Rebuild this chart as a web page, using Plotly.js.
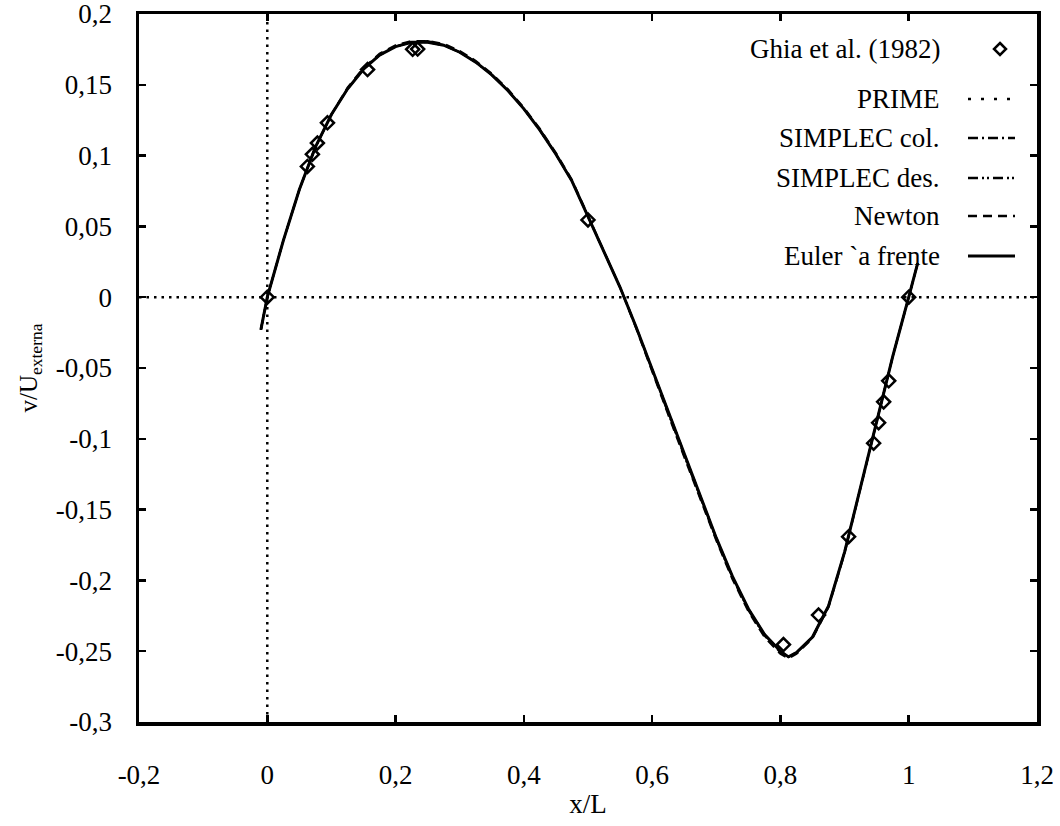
<!DOCTYPE html>
<html>
<head>
<meta charset="utf-8">
<script src="https://cdn.plot.ly/plotly-3.0.1.min.js"></script>
<style>
  html, body { margin: 0; padding: 0; background: #fff; }
  #chart { width: 1060px; height: 826px; }
</style>
</head>
<body>
<div id="chart"></div>
<script>
// ---- Data ----
const ghiaX = [0.0000, 0.0625, 0.0703, 0.0781, 0.0938, 0.1563, 0.2266, 0.2344, 0.5000, 0.8047, 0.8594, 0.9063, 0.9453, 0.9531, 0.9609, 0.9688, 1.0000];
const ghiaV = [0.00000, 0.09233, 0.10091, 0.10890, 0.12317, 0.16077, 0.17507, 0.17527, 0.05454, -0.24533, -0.22445, -0.16914, -0.10313, -0.08864, -0.07391, -0.05906, 0.00000];

const gridX = [-0.01, 0, 0.025, 0.05, 0.075, 0.1, 0.125, 0.15, 0.175, 0.2, 0.225, 0.25, 0.275, 0.3, 0.325, 0.35, 0.375, 0.4, 0.425, 0.45, 0.475, 0.5, 0.525, 0.55, 0.575, 0.6, 0.625, 0.65, 0.675, 0.7, 0.725, 0.75, 0.775, 0.8, 0.8125, 0.825, 0.85, 0.875, 0.9, 0.925, 0.95, 0.975, 1.0, 1.014];
const eulerV  = [-0.023, 0, 0.040, 0.076, 0.106, 0.129, 0.147, 0.161, 0.171, 0.177, 0.180, 0.180, 0.178, 0.173, 0.166, 0.157, 0.146, 0.133, 0.118, 0.101, 0.082, 0.057, 0.032, 0.007, -0.021, -0.051, -0.081, -0.111, -0.141, -0.170, -0.197, -0.220, -0.238, -0.250, -0.254, -0.251, -0.240, -0.218, -0.180, -0.134, -0.087, -0.042, 0.0, 0.024];
const newtonV = [-0.023, 0, 0.040, 0.076, 0.106, 0.129, 0.148, 0.162, 0.172, 0.178, 0.181, 0.181, 0.179, 0.174, 0.167, 0.158, 0.147, 0.134, 0.119, 0.102, 0.083, 0.058, 0.033, 0.007, -0.022, -0.053, -0.083, -0.113, -0.143, -0.172, -0.199, -0.222, -0.240, -0.252, -0.255, -0.252, -0.241, -0.219, -0.181, -0.135, -0.088, -0.042, 0.0, 0.024];
const simplecDesV = [-0.023, 0, 0.040, 0.076, 0.106, 0.129, 0.147, 0.161, 0.171, 0.177, 0.180, 0.181, 0.178, 0.173, 0.166, 0.157, 0.146, 0.133, 0.118, 0.101, 0.082, 0.057, 0.032, 0.007, -0.021, -0.052, -0.082, -0.112, -0.142, -0.171, -0.198, -0.221, -0.239, -0.251, -0.254, -0.251, -0.240, -0.218, -0.180, -0.134, -0.087, -0.042, 0.0, 0.024];
const simplecColV = [-0.023, 0, 0.040, 0.076, 0.106, 0.129, 0.147, 0.161, 0.171, 0.177, 0.180, 0.180, 0.178, 0.173, 0.166, 0.157, 0.146, 0.133, 0.118, 0.101, 0.082, 0.057, 0.032, 0.007, -0.021, -0.051, -0.081, -0.111, -0.141, -0.170, -0.197, -0.220, -0.238, -0.250, -0.254, -0.251, -0.240, -0.218, -0.180, -0.134, -0.087, -0.042, 0.0, 0.024];
const primeV = [-0.023, 0, 0.040, 0.076, 0.106, 0.129, 0.147, 0.161, 0.171, 0.177, 0.180, 0.180, 0.178, 0.173, 0.166, 0.157, 0.146, 0.133, 0.118, 0.101, 0.082, 0.057, 0.032, 0.007, -0.021, -0.051, -0.081, -0.111, -0.141, -0.170, -0.197, -0.220, -0.238, -0.250, -0.254, -0.251, -0.240, -0.218, -0.180, -0.134, -0.087, -0.042, 0.0, 0.024];

const seriesNames = ["Ghia et al. (1982)", "PRIME", "SIMPLEC col.", "SIMPLEC des.", "Newton", "Euler `a frente"];
const xTickVals = [-0.2, 0, 0.2, 0.4, 0.6, 0.8, 1, 1.2];
const xTickText = ["-0,2", "0", "0,2", "0,4", "0,6", "0,8", "1", "1,2"];
const yTickVals = [-0.3, -0.25, -0.2, -0.15, -0.1, -0.05, 0, 0.05, 0.1, 0.15, 0.2];
const yTickText = ["-0,3", "-0,25", "-0,2", "-0,15", "-0,1", "-0,05", "0", "0,05", "0,1", "0,15", "0,2"];

// ---- Styles ----
const FONT = "Liberation Serif";
const dashes = {
  prime: "3px,10px",
  col: "10px,4px,2px,4px",
  des: "10px,4px,2px,3px,2px,4px",
  newton: "9px,6px",
  euler: "solid"
};

const traces = [
  {x: gridX, y: eulerV, mode: "lines", name: seriesNames[5], line: {color: "#000", width: 3, dash: dashes.euler}},
  {x: gridX, y: newtonV, mode: "lines", name: seriesNames[4], line: {color: "#000", width: 2, dash: dashes.newton}},
  {x: gridX, y: simplecDesV, mode: "lines", name: seriesNames[3], line: {color: "#000", width: 2, dash: dashes.des}},
  {x: gridX, y: simplecColV, mode: "lines", name: seriesNames[2], line: {color: "#000", width: 2, dash: dashes.col}},
  {x: gridX, y: primeV, mode: "lines", name: seriesNames[1], line: {color: "#000", width: 2, dash: dashes.prime}},
  {x: ghiaX, y: ghiaV, mode: "markers", name: seriesNames[0],
   marker: {symbol: "diamond-open", size: 10, color: "#000", line: {width: 2.5, color: "#000"}}}
];

const L = 139, R = 1037, T = 14, B = 722;
const px = v => (v - L) / (R - L);
const py = v => 1 - (v - T) / (B - T);

const legendRows = [49, 99, 138, 178, 216, 256];
const legendDash = [null, dashes.prime, dashes.col, dashes.des, dashes.newton, dashes.euler];
const shapes = [
  {type: "line", xref: "x", yref: "paper", x0: 0, x1: 0, y0: 0, y1: 1, line: {color: "#000", width: 2.5, dash: "2.5px,5px"}},
  {type: "line", xref: "paper", yref: "y", x0: 0, x1: 1, y0: 0, y1: 0, line: {color: "#000", width: 2.5, dash: "2.5px,5px"}}
];
const annotations = [];
seriesNames.forEach((n, i) => {
  annotations.push({xref: "paper", yref: "paper", x: px(942), y: py(legendRows[i]), xanchor: "right", yanchor: "middle",
    text: n, showarrow: false, font: {family: FONT, size: 27, color: "#000"}});
  if (i > 0) {
    shapes.push({type: "line", xref: "paper", yref: "paper", x0: px(968), x1: px(1015), y0: py(legendRows[i]), y1: py(legendRows[i]),
      line: {color: "#000", width: i === 5 ? 3 : 2.5, dash: legendDash[i]}});
  }
});
const dc = {x: 1000, y: 49}, ds = 6;
shapes.push({type: "path", xref: "paper", yref: "paper",
  path: `M ${px(dc.x)} ${py(dc.y - ds)} L ${px(dc.x + ds)} ${py(dc.y)} L ${px(dc.x)} ${py(dc.y + ds)} L ${px(dc.x - ds)} ${py(dc.y)} Z`,
  line: {color: "#000", width: 2.5}, fillcolor: "rgba(0,0,0,0)"});

const axisCommon = {
  showgrid: false, zeroline: false, showline: true, linecolor: "#000", linewidth: 3.5,
  mirror: "ticks", ticks: "inside", ticklen: 7, tickwidth: 2.5, tickcolor: "#000",
  ticklabeloverflow: "allow",
  tickfont: {family: FONT, size: 27, color: "#000"}
};

const layout = {
  width: 1060, height: 826,
  margin: {l: L, r: 1060 - R, t: T, b: 826 - B},
  paper_bgcolor: "#fff", plot_bgcolor: "#fff",
  font: {family: FONT, color: "#000"},
  showlegend: false,
  xaxis: Object.assign({}, axisCommon, {
    range: [-0.2, 1.2], tickmode: "array", tickvals: xTickVals, ticktext: xTickText,
    ticklabelstandoff: 26,
    title: {text: "x/L", font: {family: FONT, size: 27, color: "#000"}, standoff: 6}
  }),
  yaxis: Object.assign({}, axisCommon, {
    range: [-0.3, 0.2], tickmode: "array", tickvals: yTickVals, ticktext: yTickText,
    ticklabelstandoff: 18,
    title: {text: "v/U<sub>externa</sub>", font: {family: FONT, size: 25, color: "#000"}, standoff: 12}
  }),
  shapes: shapes,
  annotations: annotations
};

Plotly.newPlot("chart", traces, layout, {displayModeBar: false, staticPlot: true});
</script>
</body>
</html>
